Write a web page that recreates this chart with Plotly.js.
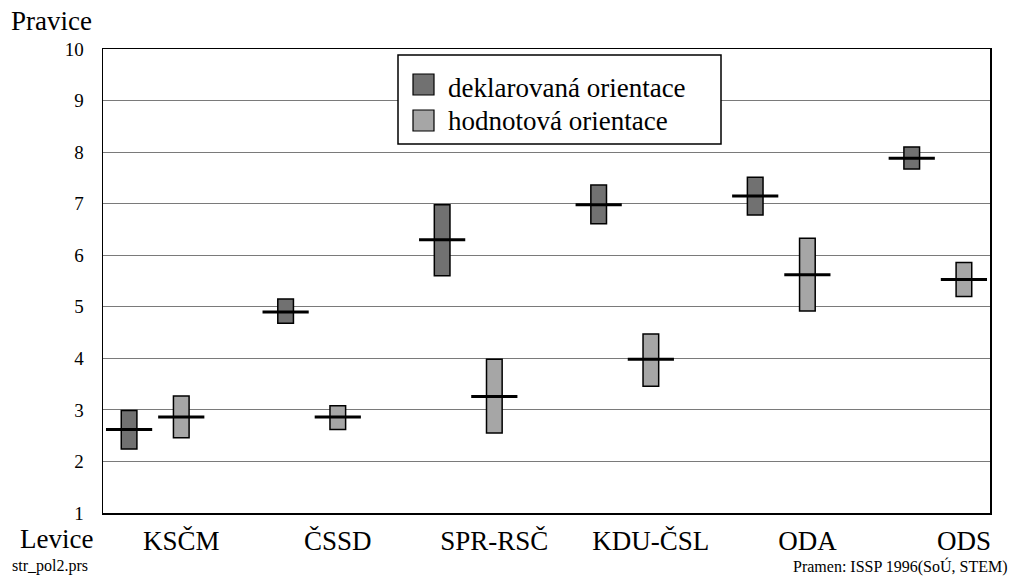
<!DOCTYPE html>
<html>
<head>
<meta charset="utf-8">
<script src="https://cdn.plot.ly/plotly-3.0.1.min.js"></script>
<style>
  html, body { margin: 0; padding: 0; background: #fff; }
  #chart { width: 1012px; height: 576px; }
</style>
</head>
<body>
<div id="chart"></div>
<script>
// ---- data ----
const categories = ['KSČM', 'ČSSD', 'SPR-RSČ', 'KDU-ČSL', 'ODA', 'ODS'];
const declLow  = [2.24, 4.68, 5.60, 6.61, 6.78, 7.67];
const declHigh = [2.99, 5.15, 6.98, 7.36, 7.51, 8.10];
const declMean = [2.62, 4.90, 6.30, 6.98, 7.15, 7.88];
const valLow   = [2.46, 2.62, 2.55, 3.46, 4.92, 5.20];
const valHigh  = [3.27, 3.08, 3.98, 4.47, 6.33, 5.86];
const valMean  = [2.86, 2.86, 3.26, 3.98, 5.62, 5.53];
const yTicks = [1, 2, 3, 4, 5, 6, 7, 8, 9, 10];
const legendLabels = ['deklarovaná orientace', 'hodnotová orientace'];

// ---- layout helpers ----
const FONT = 'Liberation Serif';
const DARK = '#717171', LIGHT = '#a6a6a6';
const L = 103, R = 990, T = 49, B = 513;
const W = R - L, H = B - T;
const px = x => (x - L) / W;
const py = y => (B - y) / H;

const xDecl = categories.map((c, i) => 3 * i);
const xVal = categories.map((c, i) => 3 * i + 1);
const diff = (hi, lo) => hi.map((v, i) => v - lo[i]);

const barStyle = col => ({ color: col, line: { color: '#000', width: 1.5 } });
const meanStyle = { symbol: 'line-ew', size: 33, color: '#000', line: { color: '#000', width: 3 } };

const traces = [
  { type: 'bar', x: xDecl, y: diff(declHigh, declLow), base: declLow, width: 0.3,
    marker: barStyle(DARK), name: legendLabels[0], hoverinfo: 'skip' },
  { type: 'bar', x: xVal, y: diff(valHigh, valLow), base: valLow, width: 0.3,
    marker: barStyle(LIGHT), name: legendLabels[1], hoverinfo: 'skip' },
  { type: 'scatter', mode: 'markers', x: xDecl, y: declMean, marker: meanStyle, hoverinfo: 'skip' },
  { type: 'scatter', mode: 'markers', x: xVal, y: valMean, marker: meanStyle, hoverinfo: 'skip' }
];

const layout = {
  width: 1012, height: 576,
  margin: { l: L, r: 1012 - R, t: T, b: 576 - B, pad: 0 },
  paper_bgcolor: '#fff', plot_bgcolor: '#fff',
  showlegend: false,
  barmode: 'overlay',
  font: { family: FONT, color: '#000' },
  xaxis: {
    range: [-0.5, 16.5], showgrid: false, zeroline: false,
    tickmode: 'array', tickvals: xVal, ticktext: categories,
    ticks: '', tickfont: { family: FONT, size: 27, color: '#000' },
    ticklabelstandoff: 3,
    showline: true, mirror: true, linecolor: '#000', linewidth: 1.5, fixedrange: true
  },
  yaxis: {
    range: [1, 10], tickmode: 'array', tickvals: yTicks,
    showgrid: true, gridcolor: '#7a7a7a', gridwidth: 1.2, zeroline: false,
    ticks: '', tickfont: { family: FONT, size: 19, color: '#000' },
    ticklabelstandoff: 14,
    showline: true, mirror: true, linecolor: '#000', linewidth: 1.5, fixedrange: true
  },
  shapes: [
    { type: 'rect', xref: 'paper', yref: 'paper', x0: px(398), x1: px(721), y0: py(144), y1: py(55),
      fillcolor: '#fff', line: { color: '#000', width: 1.5 }, layer: 'above' },
    { type: 'rect', xref: 'paper', yref: 'paper', x0: px(413), x1: px(434), y0: py(95), y1: py(74),
      fillcolor: DARK, line: { color: '#000', width: 1.2 }, layer: 'above' },
    { type: 'rect', xref: 'paper', yref: 'paper', x0: px(413), x1: px(434), y0: py(131), y1: py(110),
      fillcolor: LIGHT, line: { color: '#000', width: 1.2 }, layer: 'above' }
  ],
  annotations: [
    { text: legendLabels[0], xref: 'paper', yref: 'paper', x: px(446), y: py(88),
      xanchor: 'left', yanchor: 'middle', showarrow: false, font: { family: FONT, size: 27 } },
    { text: legendLabels[1], xref: 'paper', yref: 'paper', x: px(446), y: py(121),
      xanchor: 'left', yanchor: 'middle', showarrow: false, font: { family: FONT, size: 27 } },
    { text: 'Pravice', xref: 'paper', yref: 'paper', x: px(51), y: py(21),
      xanchor: 'center', yanchor: 'middle', showarrow: false, font: { family: FONT, size: 27 } },
    { text: 'Levice', xref: 'paper', yref: 'paper', x: px(56), y: py(539),
      xanchor: 'center', yanchor: 'middle', showarrow: false, font: { family: FONT, size: 27 } },
    { text: 'str_pol2.prs', xref: 'paper', yref: 'paper', x: px(10), y: py(566),
      xanchor: 'left', yanchor: 'middle', showarrow: false, font: { family: FONT, size: 16 } },
    { text: 'Pramen: ISSP 1996(SoÚ, STEM)', xref: 'paper', yref: 'paper', x: px(1010), y: py(566),
      xanchor: 'right', yanchor: 'middle', showarrow: false, font: { family: FONT, size: 16 } }
  ]
};

Plotly.newPlot('chart', traces, layout, { staticPlot: true, displayModeBar: false });
</script>
</body>
</html>
